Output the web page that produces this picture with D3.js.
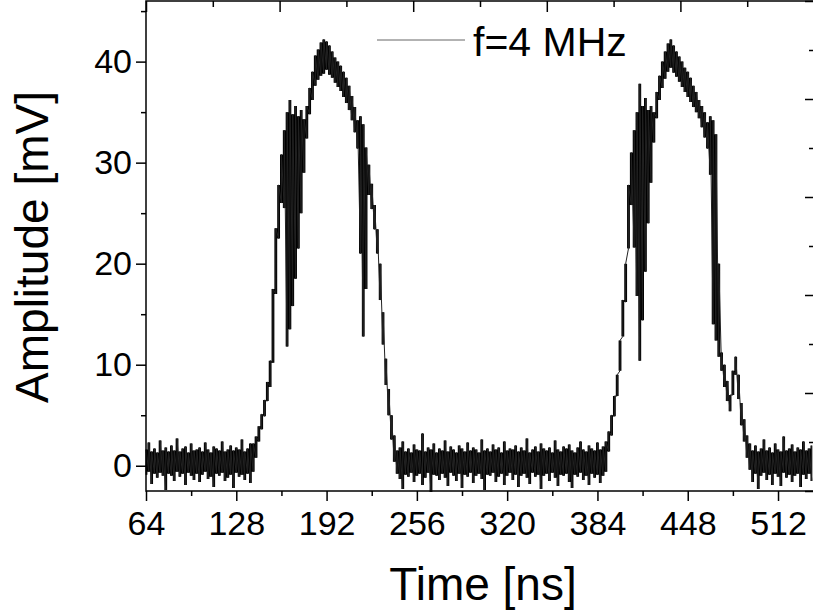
<!DOCTYPE html>
<html>
<head>
<meta charset="utf-8">
<script src="https://cdn.jsdelivr.net/npm/d3@7"></script>
<style>
  body { margin: 0; background: #fff; }
  svg { display: block; font-family: "Liberation Sans", Arial, sans-serif; }
  .axis path { display: none; }
  .axis line { stroke: #000; stroke-width: 1.5; }
  .axis text { font-size: 34px; fill: #000; }
</style>
</head>
<body>
<div id="chart"></div>
<script>
// oscilloscope trace, decimated to min/max per 2 ns bin (64 ns ... 536 ns)
const tStart = 64, tStep = 2;

const ampMax = [
  // quiet 64-138
  1.6,2.3,1.4,1.7,1.3,2.5,1.5,1.8,1.4,2.0, 1.5,2.7,1.4,1.7,1.9,1.3,2.2,1.5,1.6,1.8,
  1.4,2.3,1.6,1.3,1.9,1.7,1.5,2.4,1.4,1.6, 2.0,1.5,1.8,1.6,2.6,1.4,1.7,2.2,
  // pulse 1, 140-240
  2.2,2.9,3.9,5.1,6.5,8.3,10.4,17.5,23.5,27.8, 30.8,33.2,35.0,36.2,34.8,35.6,34.6,35.2,34.3,35.6,
  37.4,39.0,40.6,41.2,41.9,42.2,42.0,41.6,41.0,40.4, 40.0,39.6,39.0,38.4,37.6,36.6,35.5,34.2,34.6,33.8,
  31.5,29.8,27.9,25.8,23.4,20.0,15.2,10.6,7.6,5.0, 3.0,
  // quiet 242-388
  1.5,1.8,2.4,1.4,1.7,1.3,2.1,1.6,1.5,3.2, 1.4,1.8,1.6,2.2,1.3,1.7,1.5,2.5,1.4,1.9,
  1.6,1.3,2.0,1.7,1.4,2.3,1.5,1.8,1.6,1.3, 2.6,1.5,1.7,1.4,2.1,1.6,1.8,1.3,2.4,1.5,
  1.7,1.6,2.0,1.4,1.8,1.5,2.7,1.3,1.6,1.9, 1.4,2.2,1.7,1.5,1.8,1.3,2.5,1.6,1.4,1.9,
  1.7,2.1,1.5,1.3,1.8,2.4,1.6,1.4,2.0,1.7, 1.5,2.3,1.6,1.9,
  // pulse 2, 390-492
  2.4,3.4,5.0,6.9,9.0,12.4,16.4,20.0,27.8,31.0, 33.2,35.0,37.8,35.6,36.4,35.2,35.6,35.0,37.0,38.6,
  40.0,41.0,41.8,42.2,41.6,41.0,40.5,40.0,39.4,39.0, 38.4,37.6,37.0,36.2,35.6,35.0,34.0,34.6,34.2,32.8,
  20.0,11.2,10.0,8.4,7.0,9.4,10.8,9.0,6.2,4.6, 3.0,2.2,
  // quiet 494-536
  1.5,2.0,1.4,1.7,2.6,1.5,1.8,1.3,2.2,1.6, 1.4,2.9,1.5,1.7,2.1,1.4,1.8,1.6,2.4,1.5,
  1.7,2.0
];

const ampMin = [
  -0.9,-0.6,-1.8,-0.8,-1.2,-0.7,-1.0,-2.4,-0.8,-1.0, -1.5,-0.6,-1.1,-0.8,-1.9,-0.7,-1.0,-1.4,-0.8,-1.6,
  -0.9,-0.6,-1.3,-1.1,-2.1,-0.8,-1.0,-0.7,-1.5,-1.2, -0.9,-2.2,-0.7,-1.1,-0.9,-1.4,-0.8,-1.7,
  -0.6,0.8,2.4,3.6,4.9,6.4,7.8,10.2,17.0,22.5, 26.0,25.5,11.8,13.5,15.8,18.5,21.5,25.0,29.0,32.4,
  34.8,36.2,37.6,38.2,38.6,38.8,39.2,38.7,38.4,37.9, 37.5,37.1,36.5,35.9,35.2,34.2,33.0,31.4,21.0,12.8,
  17.5,26.8,25.4,23.4,21.0,16.4,12.0,8.0,5.0,2.6, 0.4,
  -0.8,-1.3,-2.3,-0.9,-1.1,-0.7,-1.6,-1.0,-0.8,-1.9, -1.2,-0.7,-2.6,-0.9,-1.0,-1.4,-0.8,-1.2,-2.0,-0.7,
  -1.0,-1.5,-0.8,-2.2,-0.9,-1.1,-0.7,-1.7,-1.0,-0.8, -1.3,-2.4,-0.9,-1.0,-0.7,-1.6,-1.1,-0.8,-1.9,-1.0,
  -0.7,-1.4,-0.9,-2.1,-1.0,-0.8,-1.2,-1.8,-0.7,-1.1, -0.9,-2.3,-1.0,-0.8,-1.5,-0.7,-1.2,-2.0,-0.9,-1.0,
  -0.8,-1.6,-2.2,-0.9,-1.1,-0.7,-1.4,-1.0,-1.9,-0.8, -1.2,-0.9,-1.7,-1.0,
  -0.6,1.4,3.0,4.9,6.9,9.4,12.8,16.2,21.5,25.8, 21.6,16.8,10.4,14.4,19.2,24.0,28.0,32.0,34.4,36.2,
  37.4,38.3,39.0,39.4,38.9,38.5,38.0,37.5,37.0,36.5, 36.0,35.5,35.0,34.4,33.5,32.5,31.4,28.8,14.0,12.4,
  10.8,9.4,7.8,6.4,5.4,7.0,9.0,6.6,4.0,2.4, 0.8,-0.4,
  -1.6,-0.8,-2.3,-1.0,-0.7,-1.4,-0.9,-1.9,-0.8,-1.1, -2.0,-0.7,-1.2,-0.9,-1.6,-1.0,-0.8,-2.1,-0.9,-1.3,
  -0.8,-1.5
];

const timeTicks = [64, 128, 192, 256, 320, 384, 448, 512];
const timeMinor = [96, 160, 224, 288, 352, 416, 480];
const ampTicks = [0, 10, 20, 30, 40];
const ampMinor = [5, 15, 25, 35, 45];
const legendLabel = 'f=4 MHz';

const margin = {top: 1, right: -1, bottom: 120, left: 146},
      width = 813 - margin.left - margin.right,
      height = 611 - margin.top - margin.bottom;

const svg = d3.select('#chart').append('svg')
    .attr('width', 813)
    .attr('height', 611)
    .style('overflow', 'hidden');

const wrapper = svg.append('g')
    .attr('transform', 'translate(' + margin.left + ',' + margin.top + ')');

const xScale = d3.scaleLinear().domain([64, 537.5]).range([0, width]),
      yScale = d3.scaleLinear().domain([-2.5, 46]).range([height, 0]);

// second (top/right) axis layer, unlabeled
const x2 = d3.scaleLinear().domain([0, 5]).range([0, width]),
      y2 = d3.scaleLinear().domain([0, 5]).range([height, 0]);

const bins = ampMax.map(function(hi, i) {
  return {t: tStart + i * tStep, lo: ampMin[i], hi: hi};
});

// min/max envelope drawn as a stepped band, plus the zigzag through the extremes
const band = d3.area()
    .curve(d3.curveStep)
    .x(function(d) { return xScale(d.t); })
    .y0(function(d) { return yScale(d.lo); })
    .y1(function(d) { return yScale(d.hi); });

const samples = [];
bins.forEach(function(d) {
  samples.push({t: d.t, v: d.lo});
  samples.push({t: d.t, v: d.hi});
});

const line = d3.line()
    .x(function(d) { return xScale(d.t); })
    .y(function(d) { return yScale(d.v); });

wrapper.append('path')
    .datum(bins)
    .attr('fill', '#000')
    .attr('d', band);

wrapper.append('path')
    .datum(samples)
    .attr('fill', 'none')
    .attr('stroke', '#222')
    .attr('stroke-width', 1)
    .attr('d', line);

// bottom axis
wrapper.append('g')
    .attr('class', 'axis')
    .attr('transform', 'translate(0,' + height + ')')
    .call(d3.axisBottom(xScale).tickValues(timeTicks).tickSize(10).tickPadding(10).tickFormat(d3.format('d')));

wrapper.append('g')
    .attr('class', 'axis')
    .attr('transform', 'translate(0,' + height + ')')
    .call(d3.axisBottom(xScale).tickValues(timeMinor).tickSize(5).tickFormat(''));

// left axis
wrapper.append('g')
    .attr('class', 'axis')
    .call(d3.axisLeft(yScale).tickValues(ampTicks).tickSize(10).tickPadding(4).tickFormat(d3.format('d')));

wrapper.append('g')
    .attr('class', 'axis')
    .call(d3.axisLeft(yScale).tickValues(ampMinor).tickSize(5).tickFormat(''));

// top and right axes, ticks pointing inward
wrapper.append('g')
    .attr('class', 'axis')
    .call(d3.axisTop(x2).ticks(5).tickSize(-11).tickFormat(''));
wrapper.append('g')
    .attr('class', 'axis')
    .call(d3.axisTop(x2).tickValues(d3.range(0.5, 5, 1)).tickSize(-6).tickFormat(''));

wrapper.append('g')
    .attr('class', 'axis')
    .attr('transform', 'translate(' + width + ',0)')
    .call(d3.axisRight(y2).ticks(5).tickSize(-9).tickFormat(''));
wrapper.append('g')
    .attr('class', 'axis')
    .attr('transform', 'translate(' + width + ',0)')
    .call(d3.axisRight(y2).tickValues(d3.range(0.5, 5, 1)).tickSize(-5).tickFormat(''));

// frame
wrapper.append('rect')
    .attr('width', width)
    .attr('height', height)
    .attr('fill', 'none')
    .attr('stroke', '#000')
    .attr('stroke-width', 1.5);

// axis titles
svg.append('text')
    .attr('x', 483)
    .attr('y', 600)
    .style('font-size', '46px')
    .style('text-anchor', 'middle')
    .text('Time [ns]');

svg.append('text')
    .attr('transform', 'translate(48,247) rotate(-90)')
    .style('font-size', '46px')
    .style('text-anchor', 'middle')
    .text('Amplitude [mV]');

// legend
svg.append('line')
    .attr('x1', 377).attr('x2', 465)
    .attr('y1', 40).attr('y2', 40)
    .attr('stroke', '#666')
    .attr('stroke-width', 1);

svg.append('text')
    .attr('x', 473)
    .attr('y', 56)
    .style('font-size', '41px')
    .text(legendLabel);
</script>
</body>
</html>
